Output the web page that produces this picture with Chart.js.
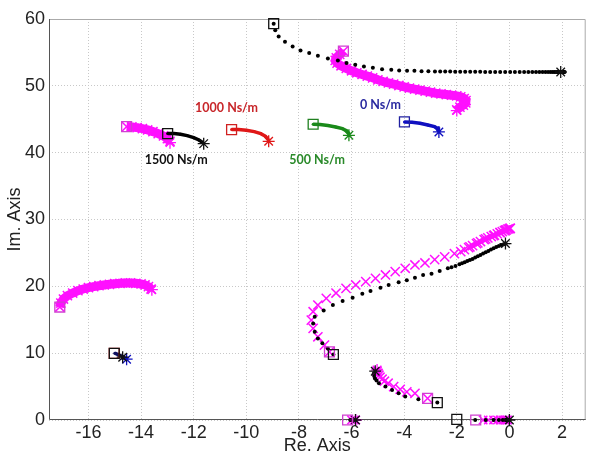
<!DOCTYPE html>
<html>
<head>
  <meta charset="UTF-8">
  <title>Root locus</title>
  <script src="https://cdn.jsdelivr.net/npm/chart.js"></script>
  <style>
    body { margin: 0; background: #fff; }
    #chart { display: block; }
  </style>
</head>
<body>
  <canvas id="chart" width="594" height="457"></canvas>
  <script>
    // axis ticks
    const xTicks = [-16, -14, -12, -10, -8, -6, -4, -2, 0, 2];
    const yTicks = [0, 10, 20, 30, 40, 50, 60];

    // damping labels
    const labelTexts = ["1000 Ns/m", "1500 Ns/m", "500 Ns/m", "0 Ns/m"];
    const labelX = [-10.75, -12.66, -7.31, -4.9];
    const labelY = [46.7, 38.9, 38.9, 47.1];
    const labelColors = ["#c8262a", "#111111", "#2a8a2a", "#2a2aa0"];

    // loci, [re, im]
    const upperBlack = [[-8.96,59.3],[-8.9,58.3],[-8.77,57.4],[-8.53,56.6],[-8.24,55.9],[-7.94,55.3],[-7.61,54.9],[-7.28,54.5],[-6.9,54.1],[-6.52,53.8],
      [-6.19,53.4],[-5.86,53.15],[-5.53,52.9],[-5.19,52.7],[-4.84,52.5],[-4.49,52.4],[-4.19,52.3],[-3.89,52.27],[-3.61,52.24],[-3.34,52.2],
      [-3.08,52.18],[-2.83,52.16],[-2.63,52.15],[-2.44,52.14],[-2.25,52.13],[-2.06,52.12],[-1.87,52.11],[-1.68,52.1],[-1.49,52.1],[-1.3,52.09],
      [-1.11,52.09],[-0.92,52.08],[-0.73,52.08],[-0.54,52.08],[-0.35,52.07],[-0.16,52.07],[0.03,52.07],[0.21,52.07],[0.39,52.07],[0.56,52.07],
      [0.72,52.07],[0.87,52.07],[1.01,52.07],[1.14,52.07],[1.26,52.07],[1.37,52.07],[1.47,52.07],[1.56,52.07],[1.64,52.07],[1.71,52.07],
      [1.77,52.07],[1.83,52.07],[1.88,52.07],[1.93,52.07],[1.97,52.07],[2.01,52.07],[2.05,52.07],[2.08,52.07],[2.1,52.07]];
    const upperMagenta = [[-6.31,55.2],[-6.45,54.7],[-6.58,54.2],[-6.62,53.8],[-6.55,53.4],[-6.4,53.0],[-6.2,52.6],[-6.0,52.25],[-5.8,51.95],[-5.6,51.7],
      [-5.4,51.45],[-5.2,51.2],[-5.0,50.9],[-4.8,50.65],[-4.6,50.45],[-4.4,50.25],[-4.2,50.05],[-4.0,49.85],[-3.8,49.65],[-3.6,49.5],
      [-3.4,49.35],[-3.2,49.2],[-3.0,49.05],[-2.8,48.9],[-2.6,48.8],[-2.4,48.7],[-2.2,48.6],[-2.0,48.5],[-1.85,48.35],[-1.72,48.1],
      [-1.65,47.8],[-1.66,47.45],[-1.75,47.1],[-1.88,46.8],[-2.0,46.4]];
    const magenta1500 = [[-14.55,43.9],[-14.35,43.85],[-14.15,43.75],[-13.95,43.6],[-13.75,43.4],[-13.55,43.15],[-13.35,42.85],[-13.15,42.5],[-13.0,42.1],[-12.9,41.7]];
    const black1500 = [[-12.99,42.85],[-12.75,42.85],[-12.5,42.75],[-12.25,42.55],[-12.0,42.25],[-11.8,41.9],[-11.65,41.5]];
    const red1000 = [[-10.56,43.45],[-10.3,43.45],[-10.0,43.35],[-9.7,43.15],[-9.45,42.85],[-9.27,42.45],[-9.17,42.0]];
    const green500 = [[-7.46,44.25],[-7.2,44.2],[-6.9,44.05],[-6.6,43.85],[-6.35,43.6],[-6.18,43.25],[-6.1,42.85]];
    const blue0 = [[-3.99,44.6],[-3.7,44.55],[-3.4,44.4],[-3.1,44.15],[-2.85,43.9],[-2.7,43.6],[-2.72,43.3]];
    const leftMagenta = [[-17.09,16.9],[-17.05,17.5],[-16.95,18.1],[-16.8,18.6],[-16.6,19.0],[-16.4,19.35],[-16.2,19.6],[-16.0,19.8],[-15.8,19.95],[-15.6,20.1],
      [-15.4,20.2],[-15.2,20.3],[-15.0,20.4],[-14.8,20.45],[-14.6,20.5],[-14.4,20.5],[-14.2,20.45],[-14.0,20.35],[-13.85,20.2],[-13.72,19.95],[-13.62,19.6]];
    const clusterPath = [[-15.0,10.0],[-14.85,9.75],[-14.7,9.5],[-14.6,9.2]];
    const lowerMagenta = [[-6.84,10.2],[-7.03,11.2],[-7.28,12.45],[-7.46,13.7],[-7.53,14.95],[-7.46,16.2],[-7.28,17.2],[-6.96,18.2],[-6.59,19.0],[-6.21,19.7],
      [-5.84,20.2],[-5.46,20.7],[-5.09,21.2],[-4.71,21.7],[-4.34,22.2],[-3.96,22.7],[-3.59,23.2],[-3.21,23.5],[-2.84,24.0],[-2.46,24.4],
      [-2.09,24.9],[-1.85,25.2],[-1.71,25.5],[-1.55,25.8],[-1.4,26.1],[-1.25,26.4],[-1.1,26.7],[-0.96,27.0],[-0.82,27.25],[-0.69,27.45],
      [-0.57,27.65],[-0.46,27.85],[-0.36,28.05],[-0.27,28.2],[-0.19,28.35],[-0.12,28.45],[-0.06,28.55],[-0.01,28.62],[0.03,28.67]];
    const lowerMagentaEnd = [[-1.5,25.9],[-1.2,26.5],[-0.9,27.1],[-0.6,27.6],[-0.35,28.05],[-0.15,28.4],[0.03,28.67]];
    const lowerBlack = [[-6.69,9.8],[-6.9,10.7],[-7.11,11.5],[-7.28,12.2],[-7.4,13.2],[-7.46,14.45],[-7.4,15.45],[-7.06,16.4],[-6.71,17.2],[-6.34,17.8],
      [-5.96,18.3],[-5.59,18.9],[-5.28,19.3],[-4.9,19.8],[-4.59,20.2],[-4.21,20.6],[-3.9,20.9],[-3.59,21.3],[-3.28,21.7],[-2.96,21.9],
      [-2.65,22.3],[-2.34,22.7],[-2.2,22.85],[-2.05,23.05],[-1.9,23.3],[-1.8,23.45],[-1.7,23.6],[-1.6,23.8],[-1.5,23.95],[-1.4,24.1],
      [-1.3,24.3],[-1.2,24.5],[-1.1,24.7],[-1.0,24.9],[-0.9,25.1],[-0.8,25.3],[-0.7,25.5],[-0.6,25.7],[-0.5,25.9],[-0.4,26.05],
      [-0.3,26.2],[-0.22,26.3],[-0.15,26.4]];
    const smallMagenta = [[-3.11,3.24],[-3.59,4.0],[-3.9,4.2],[-4.15,4.6],[-4.4,5.0],[-4.61,5.5],[-4.75,5.8],[-4.84,6.1],[-4.92,6.4],[-4.96,6.7],[-5.0,7.0],[-5.03,7.3]];
    const smallBlack = [[-2.74,2.6],[-3.46,3.1],[-3.96,3.5],[-4.21,4.0],[-4.46,4.5],[-4.71,5.0],[-4.96,5.5],[-5.05,5.9],[-5.11,6.2],[-5.14,6.6],[-5.15,7.0]];
    const axisMagenta = [[-6.0,0],[-5.9,0],[-1.0,0],[-0.8,0],[-0.6,0],[-0.45,0],[-0.35,0],[-0.25,0],[-0.18,0],[-0.12,0],[-0.07,0]];
    const axisBlack = [[-6.05,0],[-5.95,0],[-1.3,0],[-0.9,0],[-0.6,0],[-0.4,0],[-0.25,0],[-0.15,0],[-0.1,0],[-0.05,0],[0,0]];

    // start (square) and end (asterisk) markers
    const blackSquares = [[-8.96,59.3],[-12.99,42.85],[-15.02,9.97],[-6.69,9.8],[-2.74,2.6],[-2.0,0.1]];
    const blackStars = [[1.95,52.07],[-11.62,41.35],[-14.7,9.4],[-0.15,26.4],[-5.1,7.3],[-5.85,0],[0,0]];
    const magentaSquares = [[-6.31,55.2],[-14.55,43.9],[-17.09,16.9],[-6.84,10.2],[-3.11,3.24],[-6.15,0],[-1.28,0]];
    const magentaStars = [[-2.0,46.3],[-12.9,41.5],[-13.59,19.5],[-5.03,7.5],[-5.84,0]];
    const redSquares = [[-10.56,43.45],[-15.02,9.97]];
    const redStars = [[-9.15,41.7]];
    const greenSquares = [[-7.46,44.25]];
    const greenStars = [[-6.1,42.6]];
    const blueSquares = [[-3.99,44.6]];
    const blueStars = [[-2.68,43.1],[-14.55,9.1]];

    const MAG = "#ff10ff";
    const toPts = arr => arr.map(p => ({ x: p[0], y: p[1] }));

    function squares(arr, color) {
      return { data: toPts(arr), showLine: false, pointStyle: "rect", pointRadius: 7,
        pointBorderWidth: 1.3, pointBorderColor: color, pointBackgroundColor: "rgba(0,0,0,0)", clip: false };
    }
    function stars(arr, color) {
      return { data: toPts(arr), showLine: false, pointStyle: "star", pointRadius: 6,
        pointBorderWidth: 1.3, pointBorderColor: color, pointBackgroundColor: color, clip: false };
    }
    function dots(arr) {
      return { data: toPts(arr), showLine: false, pointStyle: "circle", pointRadius: 2,
        pointBorderWidth: 0, pointBackgroundColor: "#000", clip: false };
    }
    function crosses(arr, width, r) {
      return { data: toPts(arr), showLine: width > 0, borderColor: MAG, borderWidth: width,
        pointStyle: "crossRot", pointRadius: r, pointBorderWidth: 1.5, pointBorderColor: MAG, clip: false };
    }
    function thickLine(arr, color) {
      return { data: toPts(arr), showLine: true, borderColor: color, borderWidth: 3.5,
        pointRadius: 1.5, pointBorderWidth: 0, pointBackgroundColor: color, clip: false };
    }

    const labelPlugin = {
      id: "labels",
      afterDatasetsDraw(chart) {
        const { ctx, scales } = chart;
        ctx.save();
        ctx.font = "bold 12.5px Lato, 'Open Sans', sans-serif";
        ctx.textAlign = "center";
        ctx.textBaseline = "middle";
        labelTexts.forEach((t, i) => {
          ctx.fillStyle = labelColors[i];
          ctx.fillText(t, scales.x.getPixelForValue(labelX[i]), scales.y.getPixelForValue(labelY[i]));
        });
        ctx.restore();
      }
    };

    const boxPlugin = {
      id: "box",
      beforeDatasetsDraw(chart) {
        const { ctx, chartArea: a } = chart;
        ctx.save();
        ctx.lineWidth = 1;
        ctx.strokeStyle = "#aaaaaa";
        ctx.beginPath();
        ctx.moveTo(a.left, a.top + 0.5); ctx.lineTo(a.right - 0.5, a.top + 0.5); ctx.lineTo(a.right - 0.5, a.bottom);
        ctx.stroke();
        ctx.strokeStyle = "#555555";
        ctx.beginPath();
        ctx.moveTo(a.left + 0.5, a.top); ctx.lineTo(a.left + 0.5, a.bottom - 0.5); ctx.lineTo(a.right, a.bottom - 0.5);
        ctx.stroke();
        ctx.restore();
      }
    };

    const gridStyle = { color: "#c8c8c8", lineWidth: 1, drawTicks: false };
    const tickFont = { family: "'Liberation Sans', Arial, sans-serif", size: 18 };

    new Chart(document.getElementById("chart"), {
      type: "scatter",
      data: {
        datasets: [
          squares(blackSquares, "#111"),
          squares(magentaSquares, "#d040d0"),
          squares(redSquares, "#d02020"),
          squares(greenSquares, "#208020"),
          squares(blueSquares, "#2020a0"),
          stars(blackStars, "#111"),
          stars(magentaStars, MAG),
          stars(redStars, "#e01818"),
          stars(greenStars, "#1a8a1a"),
          stars(blueStars, "#1010c0"),
          dots(upperBlack),
          dots(lowerBlack),
          dots(smallBlack),
          dots(axisBlack),
          thickLine(black1500, "#000"),
          thickLine(red1000, "#e01818"),
          thickLine(green500, "#1a8a1a"),
          thickLine(blue0, "#1010c0"),
          thickLine(clusterPath, "#101060"),
          crosses(upperMagenta, 9, 6.5),
          crosses(magenta1500, 9, 6.5),
          crosses(leftMagenta, 9, 6.5),
          crosses(lowerMagentaEnd, 5, 6.5),
          crosses(lowerMagenta, 0, 6.5),
          crosses(smallMagenta, 0, 6.5),
          crosses(axisMagenta, 0, 6)
        ]
      },
      options: {
        responsive: false,
        devicePixelRatio: 1,
        animation: false,
        layout: { padding: { top: 19, right: 1, left: 0, bottom: 0 } },
        plugins: { legend: { display: false }, tooltip: { enabled: false } },
        scales: {
          x: {
            type: "linear", min: -17.5, max: 2.9,
            afterBuildTicks: s => { s.ticks = xTicks.map(v => ({ value: v })); },
            afterFit: s => { s.height = 37; },
            grid: gridStyle,
            border: { display: false, dash: [1, 2] },
            ticks: { font: tickFont, color: "#222", padding: 2, maxRotation: 0 },
            title: { display: true, text: "Re. Axis", font: tickFont, color: "#222", padding: 0 }
          },
          y: {
            type: "linear", min: 0, max: 60,
            afterBuildTicks: s => { s.ticks = yTicks.map(v => ({ value: v })); },
            afterFit: s => { s.width = 49; },
            grid: gridStyle,
            border: { display: false, dash: [1, 2] },
            ticks: { font: tickFont, color: "#222", padding: 4 },
            title: { display: true, text: "Im. Axis", font: tickFont, color: "#222", padding: 4 }
          }
        }
      },
      plugins: [boxPlugin, labelPlugin]
    });
  </script>
</body>
</html>
